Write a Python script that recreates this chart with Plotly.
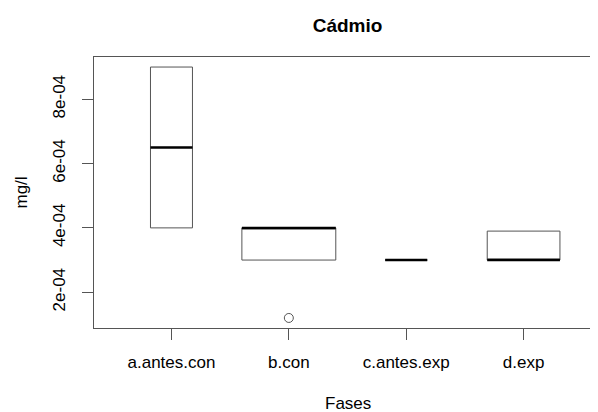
import numpy as np
import plotly.graph_objects as go

# ---- data ----
categories = ["a.antes.con", "b.con", "c.antes.exp", "d.exp"]
q1 = [4.0e-4, 3.0e-4, 3.0e-4, 3.0e-4]
median = [6.5e-4, 4.0e-4, 3.0e-4, 3.0e-4]
q3 = [9.0e-4, 4.0e-4, 3.0e-4, 3.9e-4]
lower_fence = [4.0e-4, 3.0e-4, 3.0e-4, 3.0e-4]
upper_fence = [9.0e-4, 4.0e-4, 3.0e-4, 3.9e-4]
n_obs = [2, 10, 2, 6]
outlier_group = ["b.con"]
outlier_value = [1.2e-4]
y_tick_values = [2e-4, 4e-4, 6e-4, 8e-4]
y_tick_labels = ["2e-04", "4e-04", "6e-04", "8e-04"]

FONT = "Liberation Sans, Arial, sans-serif"
EDGE = "#555555"

pos = list(range(1, len(categories) + 1))
widths = [0.8 * np.sqrt(n / max(n_obs)) for n in n_obs]

fig = go.Figure()
for i, cat in enumerate(categories):
    fig.add_trace(go.Box(
        x=[pos[i]], q1=[q1[i]], median=[median[i]], q3=[q3[i]],
        lowerfence=[lower_fence[i]], upperfence=[upper_fence[i]],
        width=widths[i], fillcolor="rgba(255,255,255,0)",
        line=dict(color=EDGE, width=1), whiskerwidth=0,
        boxpoints=False, hoverinfo="skip", showlegend=False,
    ))
    # thick median line
    fig.add_trace(go.Scatter(
        x=[pos[i] - widths[i] / 2, pos[i] + widths[i] / 2],
        y=[median[i], median[i]], mode="lines",
        line=dict(color="black", width=2.5), hoverinfo="skip", showlegend=False,
    ))

fig.add_trace(go.Scatter(
    x=[pos[categories.index(g)] for g in outlier_group], y=outlier_value,
    mode="markers",
    marker=dict(symbol="circle-open", size=9, color=EDGE, line=dict(width=1)),
    hoverinfo="skip", showlegend=False,
))

fig.update_layout(
    width=590, height=404,
    margin=dict(l=86, r=0, t=49, b=84),
    paper_bgcolor="white", plot_bgcolor="white",
    font=dict(family=FONT, size=17, color="black"),
    title=dict(text="<b>Cádmio</b>", x=(347.5 - 8) / 590, xanchor="center",
               y=1 - 17 / 404, yanchor="middle",
               font=dict(family=FONT, size=19, color="black")),
    xaxis=dict(range=[0.34, 4.634], tickvals=pos, ticktext=categories,
               showgrid=False, zeroline=False, showline=True, mirror=True,
               linecolor=EDGE, linewidth=1, ticks="outside", ticklen=11,
               tickcolor=EDGE, tickwidth=1, ticklabelstandoff=8,
               tickfont=dict(family=FONT, size=17, color="black")),
    yaxis=dict(range=[0.888e-4, 9.312e-4], tickvals=y_tick_values,
               ticktext=y_tick_labels, tickangle=-90,
               showgrid=False, zeroline=False, showline=True, mirror=False,
               linecolor=EDGE, linewidth=1, ticks="outside", ticklen=11,
               tickcolor=EDGE, tickwidth=1, ticklabelstandoff=10,
               tickfont=dict(family=FONT, size=17, color="black")),
    annotations=[
        dict(text="Fases", xref="x", x=2.5, yref="paper", y=-(403 - 328) / 271,
             xanchor="center", yanchor="middle", showarrow=False,
             font=dict(family=FONT, size=17, color="black")),
        dict(text="mg/l", xref="paper", x=(21 - 94) / 504, yref="paper", y=0.5,
             xanchor="center", yanchor="middle", textangle=-90, showarrow=False,
             font=dict(family=FONT, size=17, color="black")),
    ],
)

fig.write_html("out.html")
